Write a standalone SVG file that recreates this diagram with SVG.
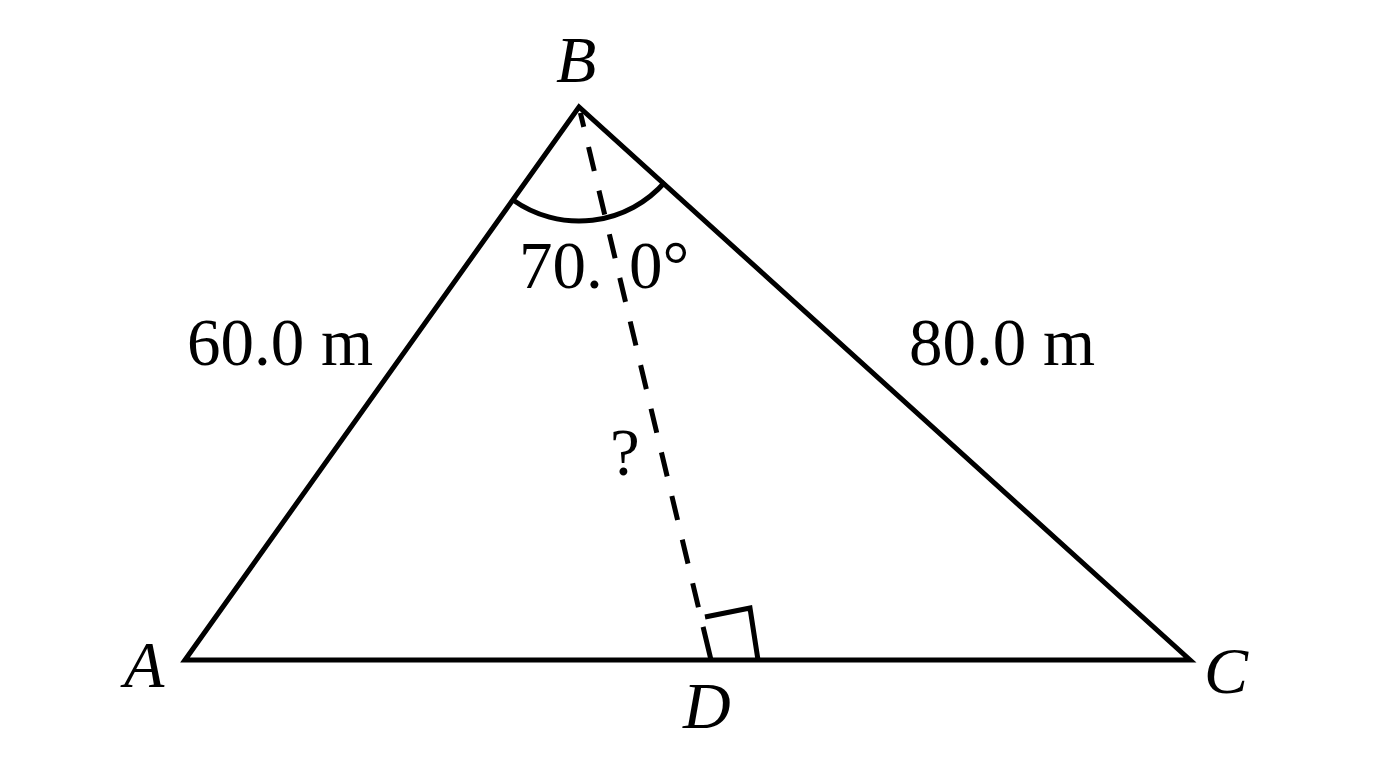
<svg xmlns="http://www.w3.org/2000/svg" width="1376" height="768" viewBox="0 0 1376 768">
<style>
.ln{fill:none;stroke:#000;stroke-width:5;stroke-linejoin:miter}
.dash{fill:none;stroke:#000;stroke-width:5;stroke-dasharray:0 6 14.5 20.6 24.7 20.15 24.7 20.15 24.7 20.15 24.7 20.15 24.7 20.15 24.7 20.15 24.7 20.15 24.7 20.15 24.7 20.15 24.7 20.15 24.7 20.15 34 20}
.num{font-family:"Liberation Serif","Times New Roman",serif;font-size:67px;fill:#000}
.lbl{font-family:"Liberation Serif","Times New Roman",serif;font-size:66px;font-style:italic;fill:#000}
</style>
<rect width="1376" height="768" fill="#fff"/>
<g id="connectors">
<polygon id="triangle" class="ln" points="185,660 579,107 1190,660"/>
<line id="BD" class="dash" x1="579" y1="107" x2="711" y2="660"/>
<path id="angleArc" class="ln" d="M513,200 A114,114 0 0 0 665,182"/>
<polyline id="rightAngle" class="ln" points="705,617 750,608 758,660"/>
</g>
<g id="A"><text class="lbl" x="124" y="687">A</text></g>
<g id="B"><text class="lbl" x="556" y="82">B</text></g>
<g id="C"><text class="lbl" x="1204" y="693">C</text></g>
<g id="D"><text class="lbl" x="683" y="728">D</text></g>
<g id="labelAB"><text class="num" x="187" y="365">60.0 m</text></g>
<g id="labelBC"><text class="num" x="909" y="365">80.0 m</text></g>
<g id="labelAngle"><text class="num" x="519" y="288">70.<tspan x="629">0°</tspan></text></g>
<g id="labelBD"><text class="num" x="610" y="475">?</text></g>
</svg>
